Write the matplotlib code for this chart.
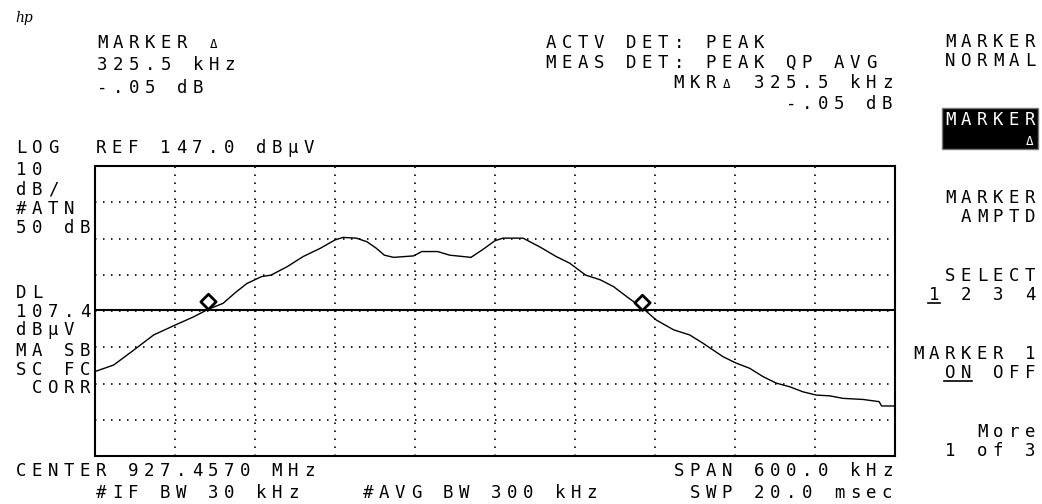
import numpy as np
import matplotlib.pyplot as plt
from matplotlib.path import Path
from matplotlib.patches import Rectangle

# instrument settings
center_mhz = 927.4570
span_khz = 600.0
ref_level = 147.0
db_per_div = 10
display_line = 107.4

# trace (offset from center in kHz, level in dBuV)
freq_offset_khz = [-300, -286, -271, -256, -240, -226, -215, -204, -194, -186,
                   -175, -168, -156, -144, -131, -120, -114, -104, -96, -89,
                   -83, -76, -61, -55, -43, -34, -18, -9, 0, 6,
                   21, 34, 46, 56, 68, 79, 89, 99, 111, 121,
                   134, 146, 156, 171, 181, 191, 201, 211, 221, 231,
                   241, 251, 261, 276, 288, 290, 300]
level_dbuv = [90.3, 92.1, 96.2, 100.4, 103.1, 105.4, 107.5, 109.1, 112.3, 114.6,
              116.5, 116.9, 119.2, 122.0, 124.3, 126.6, 127.3, 127.1, 126.1, 124.3,
              122.4, 121.8, 122.2, 123.4, 123.4, 122.4, 121.8, 124.0, 126.4, 127.1,
              127.1, 124.6, 122.0, 120.2, 116.9, 115.6, 113.7, 110.9, 107.7, 104.5,
              101.8, 100.4, 98.1, 94.4, 92.6, 91.2, 88.9, 87.1, 86.1, 84.7,
              83.8, 83.6, 82.9, 82.6, 82.0, 80.8, 80.8]

# marker 1 and delta marker
marker_offset_khz = [-215.0, 110.5]
marker_level = [107.45, 107.40]

W, H = 1042, 504
PITCH = 16  # character cell of the instrument font, px

fig = plt.figure(figsize=(W / 100, H / 100), dpi=100)
fig.patch.set_facecolor('white')
ax = fig.add_axes([95 / W, 1 - 456 / H, 800 / W, 290 / H])

freq = center_mhz + np.array(freq_offset_khz) / 1000
ax.plot(freq, level_dbuv, color='black', lw=1.0)

ax.axhline(display_line, color='black', lw=1.5)

# diamond with its bottom vertex on the trace
diamond = Path([(0, 0), (1, 1), (0, 2), (-1, 1), (0, 0)],
               [Path.MOVETO, Path.LINETO, Path.LINETO, Path.LINETO, Path.CLOSEPOLY])
mfreq = center_mhz + np.array(marker_offset_khz) / 1000
ax.plot(mfreq, marker_level, ls='none', marker=diamond, ms=22,
        mec='black', mfc='white', mew=2.0)

xmin = center_mhz - span_khz / 2000
xmax = center_mhz + span_khz / 2000
ymin = ref_level - 8 * db_per_div
ax.set_xlim(xmin, xmax)
ax.set_ylim(ymin, ref_level)
ax.set_xticks(np.linspace(xmin, xmax, 11)[1:-1])
ax.set_yticks(np.arange(ymin + db_per_div, ref_level, db_per_div))
ax.tick_params(length=0, labelbottom=False, labelleft=False)
ax.grid(True, color='black', lw=1.2, linestyle=(0, (0.9, 3.9)))
for s in ax.spines.values():
    s.set_linewidth(1.5)


def hp(x, y, s, color='black', right=False):
    # instrument text, fixed 16 px cells; x = left edge (or right edge), y = baseline
    if right:
        x = x - (len(s) - 1) * PITCH - 12
    for i, ch in enumerate(s):
        if ch == ' ':
            continue
        size = 9 if ch == 'Δ' else 12.5
        fig.text((x + i * PITCH + 6) / W, 1 - y / H, ch, ha='center', va='baseline',
                 fontsize=size, family='DejaVu Sans Mono', color=color)


fig.text(15 / W, 1 - 22 / H, 'hp', style='italic', fontsize=10, family='DejaVu Serif')

# header
hp(96, 48, 'MARKER Δ')
hp(96, 70, '325.5 kHz')
hp(96, 93, '-.05 dB')
hp(545, 48, 'ACTV DET: PEAK')
hp(545, 68, 'MEAS DET: PEAK QP AVG')
hp(893, 88, 'MKRΔ 325.5 kHz', right=True)
hp(893, 109, '-.05 dB', right=True)

# left annotations
hp(15, 153, 'LOG')
hp(95, 153, 'REF 147.0 dBμV')
for yy, s in zip([175, 195, 214, 233], ['10', 'dB/', '#ATN', '50 dB']):
    hp(15, yy, s)
for yy, s in zip([298, 317, 335, 356, 375, 393],
                 ['DL', '107.4', 'dBμV', 'MA SB', 'SC FC', ' CORR']):
    hp(15, yy, s)

# bottom
hp(15, 476, 'CENTER 927.4570 MHz')
hp(95, 498, '#IF BW 30 kHz')
hp(362, 498, '#AVG BW 300 kHz')
hp(893, 476, 'SPAN 600.0 kHz', right=True)
hp(893, 498, 'SWP 20.0 msec', right=True)

# softkeys
fig.add_artist(Rectangle((942 / W, 1 - 149 / H), 96 / W, 41 / H,
                         transform=fig.transFigure, facecolor='black',
                         edgecolor='#777777', lw=1))
hp(1036, 47, 'MARKER', right=True)
hp(1036, 66, 'NORMAL', right=True)
hp(1036, 125, 'MARKER', color='white', right=True)
hp(1036, 145, 'Δ', color='white', right=True)
hp(1036, 203, 'MARKER', right=True)
hp(1036, 222, 'AMPTD', right=True)
hp(1036, 281, 'SELECT', right=True)
hp(1036, 300, '1 2 3 4', right=True)
hp(1036, 359, 'MARKER 1', right=True)
hp(1036, 378, 'ON OFF', right=True)
hp(1036, 437, 'More', right=True)
hp(1036, 456, '1 of 3', right=True)

# underlines on the active choices
for x0, x1, yy in [(928, 940, 303), (944, 972, 381)]:
    fig.add_artist(plt.Line2D([x0 / W, x1 / W], [1 - yy / H, 1 - yy / H],
                              transform=fig.transFigure, color='black', lw=1.2))

fig.savefig('out.png', dpi=100)
